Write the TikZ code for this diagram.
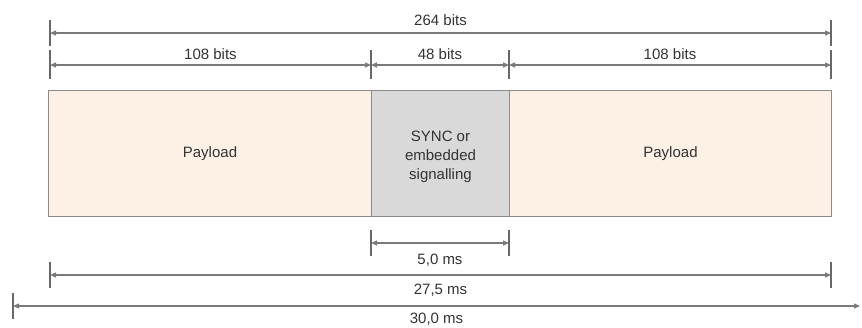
\documentclass[tikz,border=0pt]{standalone}
\usepackage{fontspec}
\setmainfont{Liberation Sans}
\usepackage{xcolor}
\usepackage{tikz}
\usetikzlibrary{arrows.meta,positioning,calc}
\definecolor{peach}{HTML}{FDF1E6}
\definecolor{syncgray}{HTML}{D9D9D9}
\definecolor{framegray}{HTML}{8A8A8A}
\definecolor{dimgray}{HTML}{7A7A7A}
\definecolor{txtgray}{HTML}{333333}

\begin{document}
\begin{tikzpicture}[x=1pt,y=-1pt,
		every node/.style={text=txtgray,font=\fontsize{15}{19}\selectfont},
		field/.style={draw=framegray,line width=1pt,anchor=north west,inner sep=0pt,minimum height=126pt},
		dimline/.style={draw=dimgray,line width=1.3pt,{Triangle[length=6pt,width=5pt]}-{Triangle[length=6pt,width=5pt]}},
		endbar/.style={draw=dimgray!85!black,line width=2pt}]
		\useasboundingbox (0,0) rectangle (862,327);
		% frame fields
		\node[field,fill=peach,minimum width=323pt] (pay1) at (48,90) {};
		\node[field,fill=syncgray,minimum width=138pt] (sync) at (371,90) {};
		\node[field,fill=peach,minimum width=322pt] (pay2) at (509,90) {};
		\node at (pay1.center) {Payload};
		\node at (pay2.center) {Payload};
		\node[align=center] at ([yshift=-3pt]sync.center) {SYNC or\\embedded\\signalling};
		% bit lengths
		\coordinate (b0) at (50,33);
		\coordinate (b1) at (831,33);
		\coordinate (c0) at (50,65);
		\coordinate (c1) at (371,65);
		\coordinate (c2) at (509,65);
		\coordinate (c3) at (831,65);
		\draw[dimline] (b0) -- node[above=3pt] {264 bits} (b1);
		\draw[dimline] (c0) -- node[above=1pt] {108 bits} (c1);
		\draw[dimline] (c1) -- node[above=1pt] {48 bits} (c2);
		\draw[dimline] (c2) -- node[above=1pt] {108 bits} (c3);
		\foreach \p in {b0,b1}
		\draw[endbar] ([yshift=13pt]\p) -- ([yshift=-13pt]\p);
		\foreach \p in {c0,c1,c2,c3}
		\draw[endbar] ([yshift=15pt]\p) -- ([yshift=-14pt]\p);
		% durations
		\coordinate (t0) at (371,243);
		\coordinate (t1) at (509,243);
		\coordinate (u0) at (50,275);
		\coordinate (u1) at (831,275);
		\coordinate (v0) at (13,306);
		\coordinate (v1) at (860,306);
		\draw[dimline] (t0) -- node[below=7pt] {5,0 ms} (t1);
		\draw[dimline] (u0) -- node[below=5pt] {27,5 ms} (u1);
		\draw[dimline] (v0) -- node[below=3pt] {30,0 ms} (v1);
		\foreach \p in {t0,t1,u0,u1,v0}
		\draw[endbar] ([yshift=13pt]\p) -- ([yshift=-13pt]\p);
\end{tikzpicture}
\end{document}
